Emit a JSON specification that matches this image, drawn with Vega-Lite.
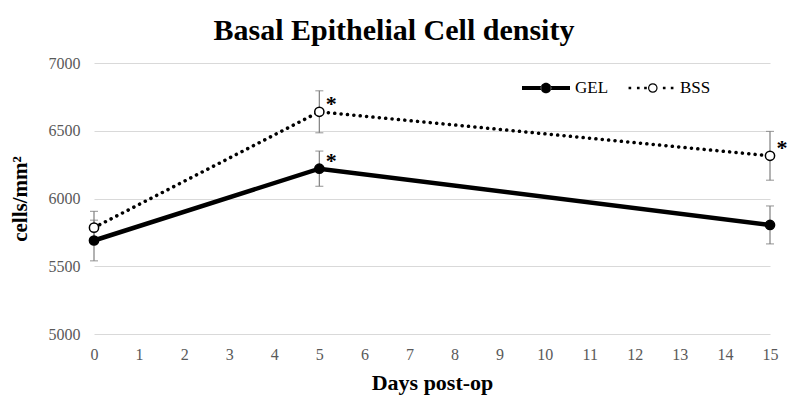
{
  "$schema": "https://vega.github.io/schema/vega-lite/v6.json",
  "width": 676,
  "height": 271,
  "autosize": "none",
  "padding": {"left": 94, "top": 63, "right": 20, "bottom": 71},
  "background": "white",
  "title": {
    "text": "Basal Epithelial Cell density",
    "font": "Liberation Serif",
    "fontSize": 30,
    "fontWeight": "bold",
    "color": "black",
    "anchor": "middle",
    "frame": "group",
    "dx": -38,
    "dy": 37,
    "baseline": "bottom",
    "offset": 16
  },
  "config": {
    "view": {"stroke": null},
    "axis": {"labelFont": "Liberation Serif", "titleFont": "Liberation Serif"},
    "legend": {
      "title": null,
      "orient": "none",
      "direction": "horizontal",
      "padding": 0,
      "symbolSize": 2304,
      "symbolOpacity": 1,
      "symbolFillColor": "black",
      "symbolStrokeWidth": 0,
      "symbolStrokeColor": "transparent",
      "labelFont": "Liberation Serif",
      "labelFontSize": 17,
      "labelColor": "black",
      "labelOffset": 5
    }
  },
  "resolve": {"scale": {"shape": "independent"}},
  "data": {
    "values": [
      {"series": "GEL", "day": 0, "mean": 5690, "lo": 5540, "hi": 5840, "sig": ""},
      {"series": "GEL", "day": 5, "mean": 6220, "lo": 6090, "hi": 6350, "sig": "*"},
      {"series": "GEL", "day": 15, "mean": 5805, "lo": 5665, "hi": 5945, "sig": ""},
      {"series": "BSS", "day": 0, "mean": 5785, "lo": 5665, "hi": 5905, "sig": ""},
      {"series": "BSS", "day": 5, "mean": 6640, "lo": 6485, "hi": 6795, "sig": "*"},
      {"series": "BSS", "day": 15, "mean": 6315, "lo": 6135, "hi": 6495, "sig": "*"}
    ]
  },
  "encoding": {
    "x": {
      "field": "day",
      "type": "quantitative",
      "scale": {"domain": [0, 15], "nice": false, "zero": false},
      "axis": {
        "values": [0, 1, 2, 3, 4, 5, 6, 7, 8, 9, 10, 11, 12, 13, 14, 15],
        "grid": false,
        "domain": false,
        "ticks": false,
        "labelFontSize": 16,
        "labelColor": "#595959",
        "labelPadding": 12,
        "labelFlush": false,
        "title": "Days post-op",
        "titleFontSize": 22,
        "titleFontWeight": "bold",
        "titleColor": "black",
        "titlePadding": 10
      }
    },
    "y": {
      "field": "mean",
      "type": "quantitative",
      "scale": {"domain": [5000, 7000], "nice": false, "zero": false},
      "axis": {
        "values": [5000, 5500, 6000, 6500, 7000],
        "format": "d",
        "grid": true,
        "gridColor": "#d9d9d9",
        "gridWidth": 1,
        "domain": false,
        "ticks": false,
        "labelFontSize": 16,
        "labelColor": "#595959",
        "labelPadding": 14,
        "title": "cells/mm²",
        "titleFontSize": 21,
        "titleFontWeight": "bold",
        "titleColor": "black",
        "titlePadding": 18
      }
    }
  },
  "layer": [
    {
      "transform": [{"filter": "datum.series === 'GEL'"}],
      "mark": {"type": "line", "color": "black", "strokeWidth": 4.5}
    },
    {
      "transform": [{"filter": "datum.series === 'BSS'"}],
      "mark": {"type": "line", "color": "black", "strokeWidth": 3.5, "strokeDash": [0.1, 6.3], "strokeCap": "round"}
    },
    {
      "mark": {"type": "rule", "color": "#7f7f7f", "strokeWidth": 1.2},
      "encoding": {"y": {"field": "lo", "type": "quantitative"}, "y2": {"field": "hi"}}
    },
    {
      "mark": {"type": "tick", "orient": "horizontal", "color": "#7f7f7f", "size": 8, "thickness": 1.2},
      "encoding": {"y": {"field": "lo", "type": "quantitative"}}
    },
    {
      "mark": {"type": "tick", "orient": "horizontal", "color": "#7f7f7f", "size": 8, "thickness": 1.2},
      "encoding": {"y": {"field": "hi", "type": "quantitative"}}
    },
    {
      "transform": [{"filter": "datum.series === 'GEL'"}],
      "mark": {"type": "point", "filled": true, "color": "black", "strokeWidth": 0, "opacity": 0},
      "encoding": {
        "shape": {
          "field": "series",
          "type": "nominal",
          "scale": {
            "domain": ["GEL"],
            "range": ["M-1,-0.085L-0.2,-0.085L-0.2,0.085L-1,0.085ZM0.2,-0.085L1,-0.085L1,0.085L0.2,0.085ZM-0.22,0A0.22,0.22,0,1,0,0.22,0A0.22,0.22,0,1,0,-0.22,0Z"]
          },
          "legend": {"legendX": 428, "legendY": 1}
        }
      }
    },
    {
      "transform": [{"filter": "datum.series === 'BSS'"}],
      "mark": {"type": "point", "filled": true, "color": "black", "strokeWidth": 0, "opacity": 0},
      "encoding": {
        "shape": {
          "field": "series",
          "type": "nominal",
          "scale": {
            "domain": ["BSS"],
            "range": ["M-0.935,-0.055L-0.825,-0.055L-0.825,0.055L-0.935,0.055ZM-0.585,-0.055L-0.475,-0.055L-0.475,0.055L-0.585,0.055ZM-0.285,-0.055L-0.175,-0.055L-0.175,0.055L-0.285,0.055ZM0.495,-0.055L0.605,-0.055L0.605,0.055L0.495,0.055ZM0.825,-0.055L0.935,-0.055L0.935,0.055L0.825,0.055ZM0.275,0L0.2598,0.0765L0.2164,0.1414L0.1515,0.1848L0.075,0.2L-0.0015,0.1848L-0.0664,0.1414L-0.1098,0.0765L-0.125,0L-0.1098,-0.0765L-0.0664,-0.1414L-0.0015,-0.1848L0.075,-0.2L0.1515,-0.1848L0.2164,-0.1414L0.2598,-0.0765ZM0.225,0L0.2136,-0.0574L0.1811,-0.1061L0.1324,-0.1386L0.075,-0.15L0.0176,-0.1386L-0.0311,-0.1061L-0.0636,-0.0574L-0.075,0L-0.0636,0.0574L-0.0311,0.1061L0.0176,0.1386L0.075,0.15L0.1324,0.1386L0.1811,0.1061L0.2136,0.0574Z"]
          },
          "legend": {"legendX": 533, "legendY": 1}
        }
      }
    },
    {
      "mark": {"type": "point", "shape": "circle", "filled": true, "stroke": "black", "strokeWidth": 1.5, "size": 85, "opacity": 1},
      "encoding": {
        "fill": {
          "field": "series",
          "type": "nominal",
          "scale": {"domain": ["GEL", "BSS"], "range": ["black", "white"]},
          "legend": null
        }
      }
    },
    {
      "mark": {"type": "text", "font": "Liberation Serif", "fontSize": 22, "fontWeight": "bold", "color": "black", "align": "center", "baseline": "middle", "dx": 12, "dy": -8},
      "encoding": {"text": {"field": "sig"}}
    }
  ]
}
